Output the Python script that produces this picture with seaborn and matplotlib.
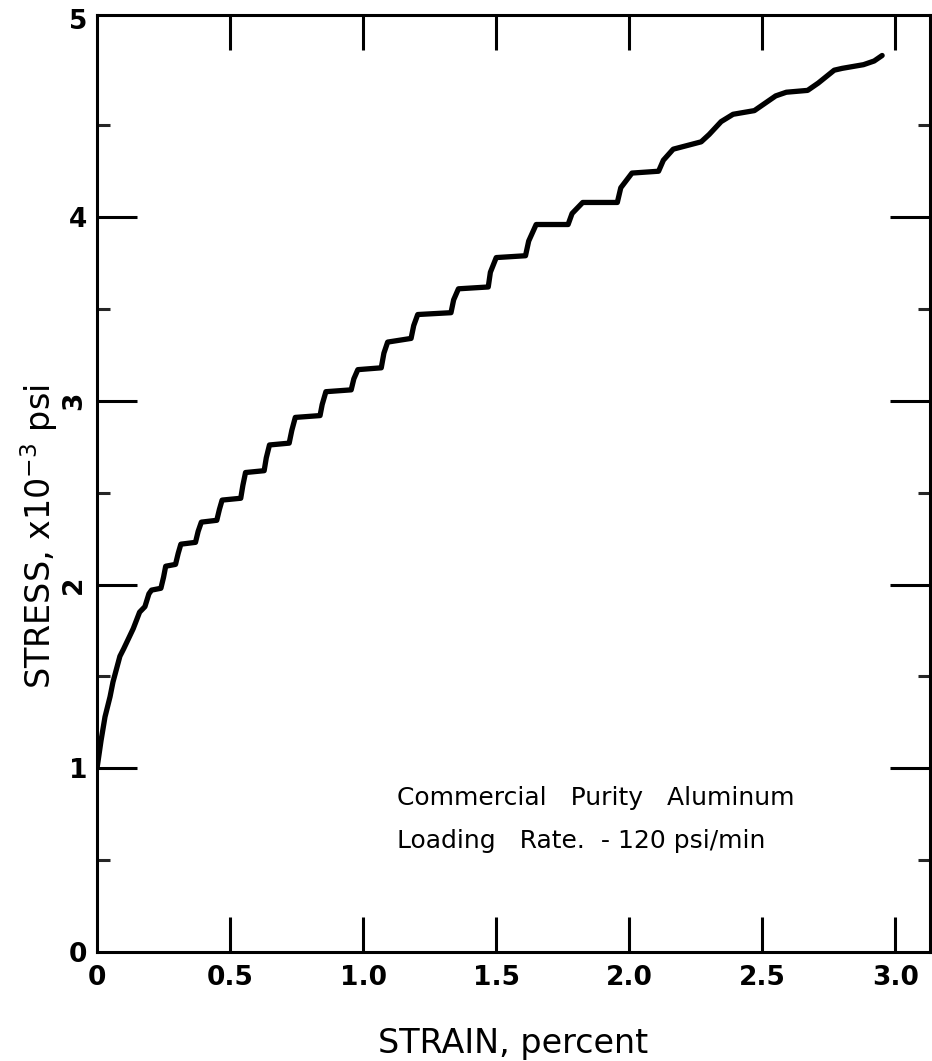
import matplotlib
matplotlib.use("Agg")
import matplotlib.pyplot as plt
from matplotlib.ticker import FixedLocator
from matplotlib.transforms import ScaledTranslation
import seaborn as sns
import pandas as pd

# Stress-strain record for commercial purity aluminum (strain in percent, stress x10^-3 psi)
strain = [0.000, 0.015, 0.030, 0.049, 0.060, 0.086, 0.100, 0.136, 0.160, 0.180,
          0.195, 0.205, 0.240, 0.250, 0.258, 0.295, 0.305, 0.315, 0.370, 0.380,
          0.392, 0.450, 0.460, 0.470, 0.540, 0.548, 0.558, 0.628, 0.636, 0.648,
          0.722, 0.732, 0.745, 0.838, 0.846, 0.860, 0.955, 0.965, 0.980, 1.068,
          1.078, 1.092, 1.180, 1.190, 1.205, 1.330, 1.340, 1.358, 1.470, 1.478,
          1.500, 1.610, 1.622, 1.650, 1.770, 1.785, 1.825, 1.955, 1.968, 2.010,
          2.110, 2.128, 2.165, 2.270, 2.300, 2.345, 2.390, 2.470, 2.500, 2.550,
          2.590, 2.670, 2.710, 2.770, 2.800, 2.880, 2.920, 2.950]
stress = [1.00, 1.15, 1.28, 1.39, 1.47, 1.61, 1.65, 1.76, 1.85, 1.88,
          1.95, 1.97, 1.98, 2.04, 2.10, 2.11, 2.17, 2.22, 2.23, 2.29,
          2.34, 2.35, 2.41, 2.46, 2.47, 2.54, 2.61, 2.62, 2.69, 2.76,
          2.77, 2.84, 2.91, 2.92, 2.98, 3.05, 3.06, 3.12, 3.17, 3.18,
          3.26, 3.32, 3.34, 3.41, 3.47, 3.48, 3.55, 3.61, 3.62, 3.70,
          3.78, 3.79, 3.87, 3.96, 3.96, 4.02, 4.08, 4.08, 4.16, 4.24,
          4.25, 4.31, 4.37, 4.41, 4.45, 4.52, 4.56, 4.58, 4.61, 4.66,
          4.68, 4.69, 4.73, 4.80, 4.81, 4.83, 4.85, 4.88]

x_ticks = [0, 0.5, 1.0, 1.5, 2.0, 2.5, 3.0]
x_tick_labels = ["0", "0.5", "1.0", "1.5", "2.0", "2.5", "3.0"]
y_ticks = [0, 1, 2, 3, 4, 5]
y_tick_labels = ["0", "1", "2", "3", "4", "5"]
y_minor_ticks = [0.5, 1.5, 2.5, 3.5, 4.5]

note_lines = ["Commercial   Purity   Aluminum", "Loading   Rate.  - 120 psi/min"]

sns.set_theme(style="white")
plt.rcParams["font.family"] = ["DejaVu Sans"]

df = pd.DataFrame({"strain": strain, "stress": stress})

fig = plt.figure(figsize=(9.32, 10.61), dpi=100)
ax = fig.add_axes([0.1041, 0.1027, 0.8938, 0.8831])

sns.lineplot(data=df, x="strain", y="stress", sort=False, estimator=None,
             color="black", linewidth=3.8, ax=ax,
             solid_joinstyle="round", solid_capstyle="round")

ax.set_xlim(0, 3.13)
ax.set_ylim(0, 5.1)

for side in ["left", "right", "top", "bottom"]:
    ax.spines[side].set_visible(True)
    ax.spines[side].set_color("black")
    ax.spines[side].set_linewidth(2.2)

ax.set_xticks(x_ticks)
ax.set_xticklabels(x_tick_labels)
ax.set_yticks(y_ticks)
ax.set_yticklabels(y_tick_labels)
ax.yaxis.set_minor_locator(FixedLocator(y_minor_ticks))

ax.tick_params(axis="x", which="major", direction="in", length=25, width=2.2,
               top=True, bottom=True, pad=9, labelsize=19, colors="black")
ax.tick_params(axis="y", which="major", direction="in", length=29, width=2.2,
               left=True, right=True, pad=7, labelsize=19, colors="black")
ax.tick_params(axis="y", which="minor", direction="in", length=9, width=2.2,
               left=True, right=True)

# no tick marks at the axis ends
for t in (ax.xaxis.get_major_ticks()[0], ax.yaxis.get_major_ticks()[0],
          ax.yaxis.get_major_ticks()[-1]):
    t.tick1line.set_visible(False)
    t.tick2line.set_visible(False)

for lab in ax.get_xticklabels() + ax.get_yticklabels():
    lab.set_fontweight("bold")
for lab in ax.get_yticklabels():
    if lab.get_text() in ("2", "3"):
        lab.set_rotation(90)
        lab.set_va("center")
    if lab.get_text() == "5":
        lab.set_transform(lab.get_transform() + ScaledTranslation(0, 0.14, fig.dpi_scale_trans))

ax.set_xlabel("STRAIN, percent", fontsize=24, color="black")
ax.set_ylabel("STRESS, x10$^{-3}$ psi", fontsize=24, color="black")
ax.xaxis.set_label_coords(0.5, -0.080)
ax.yaxis.set_label_coords(-0.045, 0.443)

ax.text(1.128, 0.836, note_lines[0], fontsize=18, ha="left", va="center", color="black")
ax.text(1.128, 0.607, note_lines[1], fontsize=18, ha="left", va="center", color="black")

ax.grid(False)
fig.savefig("out.png", dpi=100, facecolor="white")
